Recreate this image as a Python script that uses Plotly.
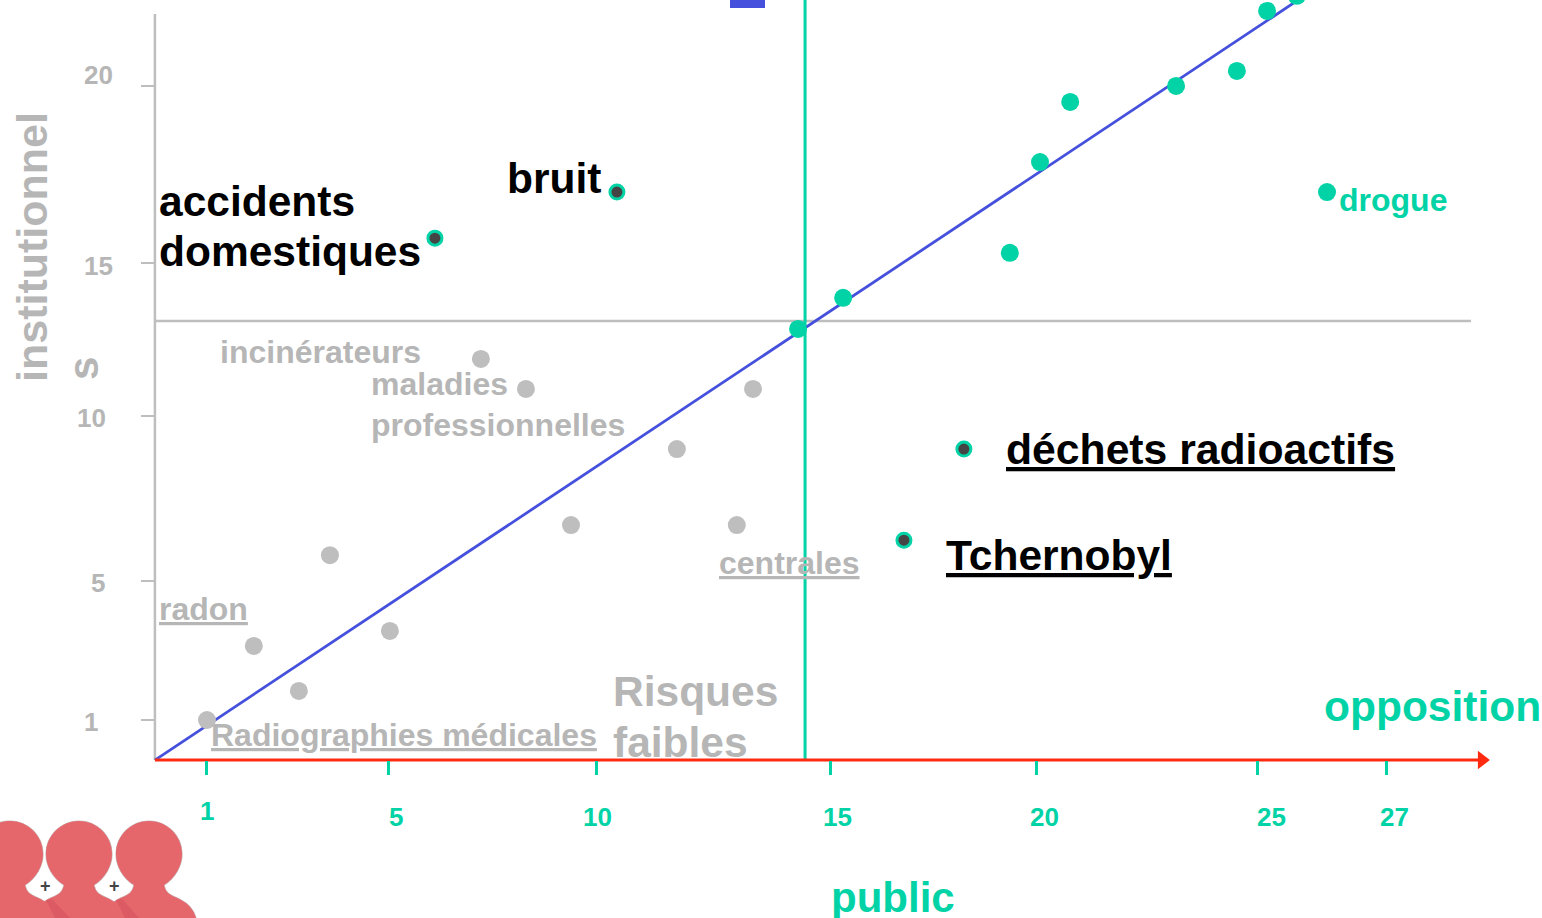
import plotly.graph_objects as go

# ---- data ----
gray_x = [1, 2.07, 3.10, 3.81, 5.18, 7.26, 8.29, 9.32, 11.74, 13.11, 13.48]
gray_y = [1, 3.22, 1.87, 5.94, 3.67, 11.82, 10.92, 6.84, 9.12, 6.84, 10.92]
teal_x = [14.51, 15.54, 19.35, 20.04, 20.73, 23.15, 24.54, 25.23, 25.91, 26.60]
teal_y = [12.72, 13.65, 15.00, 17.72, 19.52, 20.00, 20.45, 22.25, 22.70, 16.82]
dark_x = [6.21, 10.37, 18.30, 16.93]
dark_y = [15.44, 16.82, 9.12, 6.39]

x_tick_vals = [1, 5.16, 9.91, 15.24, 19.97, 25, 27.97]
x_tick_text = ["1", "5", "10", "15", "20", "25", "27"]
y_tick_vals = [20, 14.69, 10.1, 5.16, 1]

axis_min_x, axis_min_y = -0.19, -0.2
median_x, median_y = 14.67, 12.96
y_axis_top = 22.16
diag_end = (25.91, 22.55)
arrow_end = 30.14
h_line_end = 29.89

TEAL = "#02D3A6"
GRAY = "#BEBEBE"
TXT_GRAY = "#B6B6B6"
BLUE = "#4550DC"
RED = "#FF2A10"
FONT = "Liberation Sans"
W, H = 1542, 918


def px(x):
    return x / W


def py(y):
    return 1 - y / H


def line(x, y, color, width):
    return go.Scatter(x=x, y=y, mode="lines", line=dict(color=color, width=width), hoverinfo="skip")


fig = go.Figure()
fig.add_trace(line([axis_min_x, axis_min_x], [axis_min_y, y_axis_top], GRAY, 2.5))
fig.add_trace(line([axis_min_x, h_line_end], [median_y, median_y], GRAY, 2.5))
fig.add_trace(line([median_x, median_x], [axis_min_y, 23], TEAL, 3))
fig.add_trace(line([axis_min_x, diag_end[0]], [axis_min_y, diag_end[1]], BLUE, 2.8))
fig.add_trace(line([axis_min_x, arrow_end], [axis_min_y, axis_min_y], RED, 3))
fig.add_trace(go.Scatter(x=[arrow_end], y=[axis_min_y], mode="markers",
                         marker=dict(symbol="triangle-right", size=16, color=RED), hoverinfo="skip"))
fig.add_trace(go.Scatter(x=gray_x, y=gray_y, mode="markers", marker=dict(size=18, color=GRAY)))
fig.add_trace(go.Scatter(x=teal_x, y=teal_y, mode="markers", marker=dict(size=18, color=TEAL)))
fig.add_trace(go.Scatter(x=dark_x, y=dark_y, mode="markers",
                         marker=dict(size=14, color="#444444", line=dict(color=TEAL, width=3))))

# ---- labels ----
labels = [
    (157, 201, "accidents", 42.5, "black"),
    (157, 251, "domestiques", 42.5, "black"),
    (505, 178, "bruit", 42.5, "black"),
    (1004, 449, "<u>déchets radioactifs</u>", 42.7, "black"),
    (944, 555, "<u>Tchernobyl</u>", 42.5, "black"),
    (1337, 200, "drogue", 32, TEAL),
    (218, 352, "incinérateurs", 32, TXT_GRAY),
    (369, 384, "maladies", 32, TXT_GRAY),
    (369, 425, "professionnelles", 32, TXT_GRAY),
    (717, 563, "<u>centrales</u>", 32, TXT_GRAY),
    (157, 609, "<u>radon</u>", 32, TXT_GRAY),
    (209, 735, "<u>Radiographies médicales</u>", 32, TXT_GRAY),
    (611, 691, "Risques", 42.5, TXT_GRAY),
    (611, 742, "faibles", 42.5, TXT_GRAY),
    (1322, 706, "opposition", 42.5, TEAL),
    (829, 897, "public", 42, TEAL),
]
ann = []
for x, y, t, s, c in labels:
    ann.append(dict(xref="paper", yref="paper", x=px(x), y=py(y), text=f"<b>{t}</b>", showarrow=False,
                    xanchor="left", yanchor="middle", font=dict(family=FONT, size=s, color=c)))

x_label_px = [(207, 811), (396, 817), (597, 817), (838, 817), (1044, 817), (1271, 817), (1394, 817)]
for (x, y), t in zip(x_label_px, x_tick_text):
    ann.append(dict(xref="paper", yref="paper", x=px(x), y=py(y), text=f"<b>{t}</b>", showarrow=False,
                    xanchor="center", yanchor="middle", font=dict(family=FONT, size=26, color=TEAL)))
y_label_px = [(98, 75, "20"), (98, 266, "15"), (91, 418, "10"), (98, 583, "5"), (91, 722, "1")]
for x, y, t in y_label_px:
    ann.append(dict(xref="paper", yref="paper", x=px(x), y=py(y), text=f"<b>{t}</b>", showarrow=False,
                    xanchor="center", yanchor="middle", font=dict(family=FONT, size=26, color=TXT_GRAY)))
ann.append(dict(xref="paper", yref="paper", x=px(32), y=py(247), text="<b>institutionnel</b>", showarrow=False,
                textangle=-90, xanchor="center", yanchor="middle", font=dict(family=FONT, size=43, color=TXT_GRAY)))
ann.append(dict(xref="paper", yref="paper", x=px(83), y=py(369), text="<b>s</b>", showarrow=False,
                textangle=-90, xanchor="center", yanchor="middle", font=dict(family=FONT, size=42, color=TXT_GRAY)))
for x in (45, 114):
    ann.append(dict(xref="paper", yref="paper", x=px(x), y=py(886), text="<b>+</b>", showarrow=False,
                    xanchor="center", yanchor="middle", font=dict(family=FONT, size=18, color="#444444")))


# ---- decorative people + blue tab ----
def P(x, y):
    return f"{px(x):.5f},{py(y):.5f}"


def person(c):
    pts = [
        "M", (c - 47, 918),
        "C", (c - 45, 911), (c - 40, 904), (c - 32, 900),
        "C", (c - 26, 896), (c - 17, 896), (c - 15, 885),
        "C", (c - 26, 878), (c - 33, 866), (c - 33, 854),
        "C", (c - 33, 836), (c - 18, 821), (c, 821),
        "C", (c + 18, 821), (c + 33, 836), (c + 33, 854),
        "C", (c + 33, 866), (c + 26, 878), (c + 15, 885),
        "C", (c + 17, 896), (c + 26, 896), (c + 32, 900),
        "C", (c + 40, 904), (c + 45, 911), (c + 47, 918),
    ]
    s = ""
    for p in pts:
        s += p + " " if isinstance(p, str) else P(*p) + " "
    return s + "Z"


shapes = []
for c in (10, 79, 149):
    shapes.append(dict(type="path", xref="paper", yref="paper", path=person(c), fillcolor="#C9B5B5",
                       line=dict(color="#C9B5B5", width=1.2), layer="below"))
for c in (10, 79, 149):
    shapes.append(dict(type="path", xref="paper", yref="paper", path=person(c), fillcolor="#E5676C",
                       line=dict(width=0), layer="below"))
for a, b, d, e in [((46, 900), (52, 899), (70, 918), (55, 918)), ((116, 900), (122, 899), (139, 918), (125, 918))]:
    shapes.append(dict(type="path", xref="paper", yref="paper",
                       path=f"M {P(*a)} L {P(*b)} L {P(*d)} L {P(*e)} Z", fillcolor="#DC5A63",
                       line=dict(width=0), layer="below"))
shapes.append(dict(type="rect", xref="paper", yref="paper", x0=px(730), x1=px(765), y0=py(8), y1=py(0),
                   fillcolor=BLUE, line=dict(width=0), layer="below"))

fig.update_layout(
    width=W, height=H, margin=dict(l=0, r=0, t=0, b=0), showlegend=False,
    paper_bgcolor="white", plot_bgcolor="white", hovermode=False,
    annotations=ann, shapes=shapes,
    xaxis=dict(range=[-3.731, 31.514], anchor="free", position=py(760), showgrid=False, zeroline=False,
               showline=False, tickmode="array", tickvals=x_tick_vals, ticktext=x_tick_text, showticklabels=False,
               ticks="outside", ticklen=14, tickwidth=2.5, tickcolor=TEAL),
    yaxis=dict(range=[-4.933, 22.576], anchor="free", position=px(155), showgrid=False, zeroline=False,
               showline=False, tickmode="array", tickvals=y_tick_vals, showticklabels=False,
               ticks="outside", ticklen=14, tickwidth=2, tickcolor=GRAY),
)
fig.write_html("out.html", config={"displayModeBar": False},
               post_script="document.body.style.margin='0';document.body.style.overflow='hidden';")
